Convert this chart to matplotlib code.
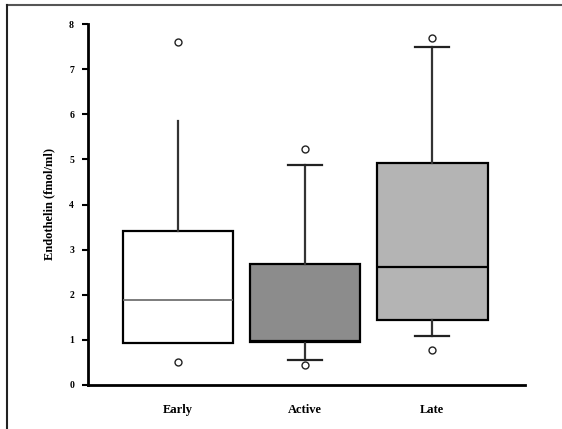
import matplotlib
matplotlib.use("Agg")
import matplotlib.pyplot as plt
from matplotlib.lines import Line2D

categories = ["Early", "Active", "Late"]
q1 = [0.93, 0.95, 1.44]
medians = [1.88, 0.97, 2.61]
q3 = [3.41, 2.68, 4.91]
whis_lo = [0.93, 0.55, 1.08]
whis_hi = [5.85, 4.87, 7.48]
fliers = [[7.6, 0.5], [5.24, 0.45], [7.7, 0.77]]
fill_colors = ["#ffffff", "#8c8c8c", "#b4b4b4"]
y_ticks = [0, 1, 2, 3, 4, 5, 6, 7, 8]

plt.rcParams['font.family'] = ['Liberation Serif', 'DejaVu Serif']

fig = plt.figure(figsize=(5.62, 4.29), dpi=100)
ax = fig.add_axes([88/562, 44/429, 437/562, 361/429])

stats = []
for i, c in enumerate(categories):
    stats.append(dict(label=c, q1=q1[i], med=medians[i], q3=q3[i],
                      whislo=whis_lo[i], whishi=whis_hi[i], fliers=fliers[i]))

bp = ax.bxp(stats, positions=range(len(categories)), widths=0.87,
            patch_artist=True, showcaps=True, capwidths=0.27,
            boxprops=dict(linewidth=1.6, edgecolor="black"),
            medianprops=dict(color="black", linewidth=1.6),
            whiskerprops=dict(color="#333333", linewidth=1.6),
            capprops=dict(color="#222222", linewidth=1.6),
            flierprops=dict(marker="o", markerfacecolor="white",
                            markeredgecolor="#222222", markersize=5))
for patch, col in zip(bp["boxes"], fill_colors):
    patch.set_facecolor(col)
# Early group has no caps
for k in (0, 1):
    bp["caps"][k].set_visible(False)
bp["medians"][0].set_color("#666666")
bp["medians"][0].set_linewidth(1.2)

ax.set_xlim(-0.71, 2.73)
ax.set_ylim(0, 8)
ax.set_yticks(y_ticks)
ax.set_yticklabels([str(t) for t in y_ticks], fontsize=7, fontweight="bold")
ax.set_xticks(range(len(categories)))
ax.set_xticklabels(categories, fontsize=9, fontweight="bold")
ax.tick_params(axis="x", length=0, pad=14)
ax.tick_params(axis="y", length=4, width=1.5, direction="out", pad=6)
ax.set_ylabel("Endothelin (fmol/ml)", fontsize=9, fontweight="bold", labelpad=10)
for s in ("top", "right"):
    ax.spines[s].set_visible(False)
for s in ("left", "bottom"):
    ax.spines[s].set_linewidth(2)

fig.add_artist(Line2D([7/562, 1.0], [1 - 5/429, 1 - 5/429], color="#555555", linewidth=1.5,
                      transform=fig.transFigure))
fig.add_artist(Line2D([7/562, 7/562], [0, 1 - 5/429], color="#222222", linewidth=1.5,
                      transform=fig.transFigure))

fig.savefig("out.png", dpi=100)
